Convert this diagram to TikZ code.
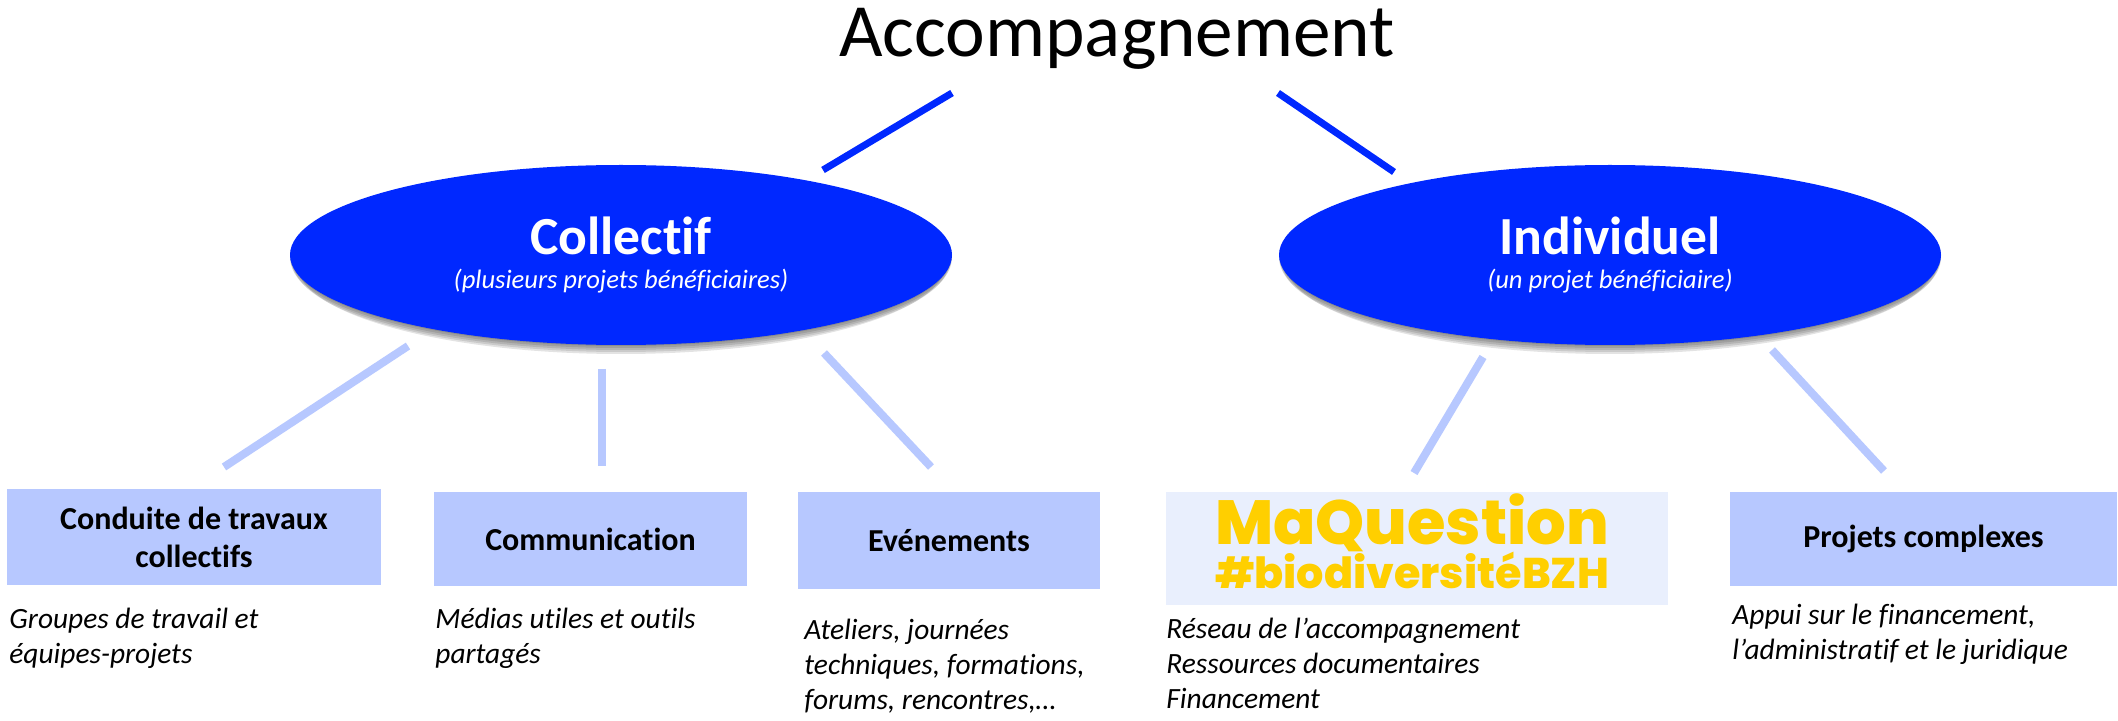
\documentclass[tikz,border=0pt]{standalone}
\usepackage{fontspec}
\usepackage{graphicx}
\setmainfont{Carlito}[Ligatures=NoCommon]
\newfontfamily\logofont{Poppins ExtraBold}
\usetikzlibrary{shapes.geometric}
\definecolor{deepblue}{HTML}{0028FF}
\definecolor{paleblue}{HTML}{B7C8FF}
\definecolor{logobg}{HTML}{E9EFFD}
\definecolor{logoyellow}{HTML}{FFCF00}
\newcommand{\fs}[2]{\fontsize{#1}{#2}\selectfont}
\tikzset{
  x=0.5pt,y=-0.5pt,
  topline/.style={draw=deepblue,line width=3.5pt},
  subline/.style={draw=paleblue,line width=4pt},
  oval/.style={ellipse,fill=deepblue,text=white,minimum width=331pt,minimum height=90pt,inner sep=0pt,align=center},
  ovalshadow/.style={ellipse,fill=black,fill opacity=0.11,minimum width=#1,minimum height=90pt,inner sep=0pt},
  catbox/.style={fill=paleblue,inner sep=0pt,align=center,font=\bfseries\fs{16}{19}},
  desc/.style={anchor=north west,inner sep=0pt,align=left,font=\itshape\fs{14.7}{17.4}},
}
\begin{document}
\begin{tikzpicture}
\useasboundingbox[fill=white] (0,0) rectangle (2118,721);
\node[font=\fs{37.6}{45}] (title) at (1117,39) {Accompagnement};
% shadows
\foreach \d/\w in {1/331pt,3/331pt,5/330pt,7/328pt,9/324pt}{
  \node[ovalshadow=\w] (sa\d) at (621,255+\d) {};
  \node[ovalshadow=\w] (sb\d) at (1610,255+\d) {};
}
\node[oval] (coll) at (621,255) {{\bfseries\fs{26.8}{30}Collectif}\\[5pt]{\itshape\fs{13.3}{15}(plusieurs projets bénéficiaires)}};
\node[oval] (indi) at (1610,255) {{\bfseries\fs{26.8}{30}Individuel}\\[5pt]{\itshape\fs{13.3}{15}(un projet bénéficiaire)}};
% connector ends
\coordinate (t1a) at (952,93); \coordinate (t1b) at (823,170);
\coordinate (t2a) at (1278,93); \coordinate (t2b) at (1394,172);
\coordinate (s1a) at (408,346); \coordinate (s1b) at (224,467);
\coordinate (s2a) at (602,369); \coordinate (s2b) at (602,466);
\coordinate (s3a) at (824,353); \coordinate (s3b) at (931,467);
\coordinate (s4a) at (1483,357); \coordinate (s4b) at (1414,473);
\coordinate (s5a) at (1772,350); \coordinate (s5b) at (1884,471);
\draw[topline] (t1a) -- (t1b);
\draw[topline] (t2a) -- (t2b);
\draw[subline] (s1a) -- (s1b);
\draw[subline] (s2a) -- (s2b);
\draw[subline] (s3a) -- (s3b);
\draw[subline] (s4a) -- (s4b);
\draw[subline] (s5a) -- (s5b);
% boxes
\node[catbox,minimum width=187pt,minimum height=48pt] (b1) at (194,537) {Conduite de travaux\\collectifs};
\node[catbox,minimum width=156.5pt,minimum height=47pt] (b2) at (590.5,539) {Communication};
\node[catbox,minimum width=151pt,minimum height=48.5pt] (b3) at (949,540.5) {Evénements};
\node[fill=logobg,inner sep=0pt,minimum width=251pt,minimum height=56.5pt] (b4) at (1417,548.5) {};
\node[catbox,minimum width=193.5pt,minimum height=47pt] (b5) at (1923.5,539) {Projets complexes};
\node[text=logoyellow,inner sep=0pt] (logoa) at (1412,523) {\resizebox{197pt}{!}{\logofont MaQuestion}};
\node[text=logoyellow,inner sep=0pt] (logob) at (1412,570) {\resizebox{197pt}{!}{\logofont \#biodiversitéBZH}};
% descriptions
\node[desc] (d1) at (9,608) {Groupes de travail et\\équipes-projets};
\node[desc] (d2) at (435,608) {Médias utiles et outils\\partagés};
\node[desc] (d3) at (804,619) {Ateliers, journées\\techniques, formations,\\forums, rencontres,…};
\node[desc] (d4) at (1166,618) {Réseau de l’accompagnement\\Ressources documentaires\\Financement};
\node[desc] (d5) at (1732,604) {Appui sur le financement,\\l’administratif et le juridique};
\end{tikzpicture}
\end{document}
